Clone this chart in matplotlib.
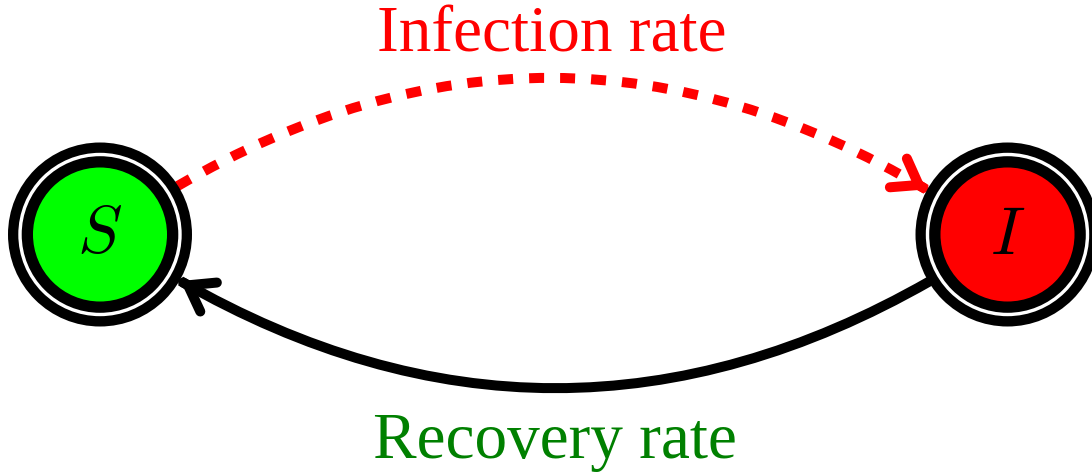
import numpy as np
import matplotlib.pyplot as plt
from matplotlib.patches import Circle, FancyArrowPatch, PathPatch, ArrowStyle
from matplotlib.path import Path

plt.rcParams['mathtext.fontset'] = 'cm'

# nodes
node_names = ['S', 'I']
node_x = [100.0, 1007.5]
node_y = [234.5, 234.5]
node_fill = ['#00ff00', '#ff0000']

# edges
edge_labels = ['Infection rate', 'Recovery rate']
edge_label_colors = ['#ff0000', '#008000']
edge_from = [0, 1]
edge_to = [1, 0]
edge_out_angle = [32, 211]
edge_in_angle = [151, -30]
edge_sag = [110, 107]
edge_style = ['dashed', 'solid']
edge_color = ['#ff0000', 'black']
label_y = [52, 458]

W, H = 1092, 472
px = 72 / 100  # points per pixel
lw = 10 * px

fig = plt.figure(figsize=(W / 100, H / 100), dpi=100)
ax = fig.add_axes([0, 0, 1, 1])
ax.set_xlim(0, W)
ax.set_ylim(H, 0)
ax.set_aspect('equal')
ax.axis('off')

# double-bordered circles
for name, x, y, fc in zip(node_names, node_x, node_y, node_fill):
    ax.add_patch(Circle((x, y), 92, fc='black', ec='none', zorder=3))
    ax.add_patch(Circle((x, y), 81.7, fc='white', ec='none', zorder=3))
    ax.add_patch(Circle((x, y), 78.3, fc='black', ec='none', zorder=3))
    ax.add_patch(Circle((x, y), 67, fc=fc, ec='none', zorder=3))
    ax.text(x, y, f'${name}$', fontsize=48, ha='center', va='center', zorder=4)


def on_circle(i, ang, r):
    a = np.radians(ang)
    return np.array([node_x[i] + r * np.cos(a), node_y[i] - r * np.sin(a)])


for k in range(len(edge_labels)):
    p0 = on_circle(edge_from[k], edge_out_angle[k], 91)
    p2 = on_circle(edge_to[k], edge_in_angle[k], 93)
    d = (p2 - p0) / np.linalg.norm(p2 - p0)
    n = np.array([d[1], -d[0]])
    mid = (p0 + p2) / 2
    c = mid + 2 * edge_sag[k] * n

    ls = (0, (1.5, 1.6)) if edge_style[k] == 'dashed' else '-'
    path = Path([p0, c, p2], [Path.MOVETO, Path.CURVE3, Path.CURVE3])
    ax.add_patch(PathPatch(path, fill=False, ec=edge_color[k], lw=lw,
                           linestyle=ls, capstyle='butt', zorder=2))

    # solid arrow head at the end of the curve
    t = (p2 - c) / np.linalg.norm(p2 - c)
    head = FancyArrowPatch(p2 - 3 * t, p2,
                           arrowstyle=ArrowStyle('->', head_length=17, head_width=12),
                           mutation_scale=1, shrinkA=0, shrinkB=0,
                           color=edge_color[k], lw=lw,
                           capstyle='round', joinstyle='round', zorder=2)
    ax.add_patch(head)

    ax.text(mid[0], label_y[k], edge_labels[k], color=edge_label_colors[k],
            fontsize=47, family='Liberation Serif', ha='center', va='baseline')

fig.savefig('out.png', dpi=100)
